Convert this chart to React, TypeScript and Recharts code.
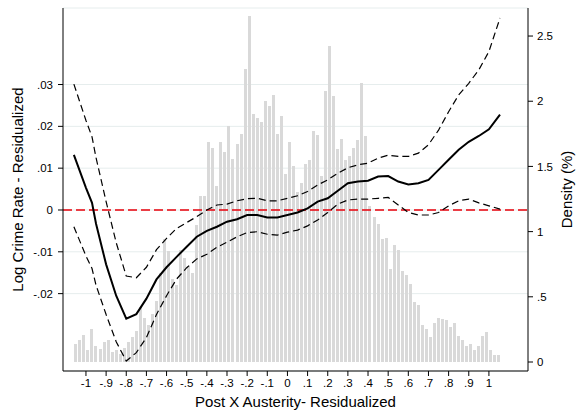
import React from 'react';
import { ComposedChart, Bar, Line, XAxis, YAxis, CartesianGrid, ReferenceLine } from 'recharts';

// Histogram: 106 bins of width 0.02 from -1.06 to 1.06 (density, %)
const densityPct: number[] = [
  0.14, 0.17, 0.21, 0.09, 0.25, 0.12, 0.10, 0.15, 0.17, 0.08,
  0.09, 0.06, 0.11, 0.15, 0.19, 0.24, 0.42, 0.34, 0.28, 0.37,
  0.47, 0.68, 0.94, 0.85, 0.64, 0.59, 0.86, 0.80, 0.74, 0.68,
  1.05, 1.27, 1.27, 1.69, 1.64, 1.35, 1.69, 1.61, 1.81, 1.56,
  1.67, 1.75, 2.25, 2.65, 1.90, 1.87, 1.84, 2.00, 1.96, 2.05,
  1.75, 1.89, 1.44, 1.69, 1.50, 1.30, 1.37, 1.52, 1.55, 1.77,
  1.74, 1.43, 2.08, 2.42, 2.04, 1.63, 1.71, 1.55, 1.58, 1.64,
  1.70, 2.14, 1.73, 1.20, 1.11, 1.06, 0.94, 0.95, 0.71, 0.90,
  0.86, 0.70, 0.67, 0.60, 0.46, 0.44, 0.28, 0.25, 0.19, 0.30,
  0.34, 0.33, 0.32, 0.27, 0.30, 0.20, 0.17, 0.12, 0.14, 0.09,
  0.12, 0.20, 0.23, 0.09, 0.05, 0.05,
];
const binStart = -1.06;
const binWidth = 0.02;
const binCenters: number[] = densityPct.map((_, i) => Math.round((binStart + binWidth * (i + 0.5)) * 1000) / 1000);

// Local polynomial fit and 95% CI
const curveX: number[] = [
  -1.06, -1.0, -0.97, -0.95, -0.9, -0.85, -0.8, -0.75, -0.7, -0.65, -0.6, -0.55, -0.5, -0.45, -0.4,
  -0.35, -0.3, -0.25, -0.2, -0.15, -0.1, -0.05, 0, 0.05, 0.1, 0.15, 0.2, 0.25, 0.3, 0.35, 0.4,
  0.45, 0.5, 0.55, 0.6, 0.65, 0.7, 0.75, 0.8, 0.85, 0.9, 0.95, 1.0, 1.055,
];
const fitY: number[] = [
  0.0132, 0.0053, 0.0017, -0.0033, -0.0130, -0.0205, -0.0260, -0.0249, -0.0212, -0.0166, -0.0137,
  -0.0112, -0.0088, -0.0064, -0.0050, -0.0040, -0.0028, -0.0022, -0.0012, -0.0012, -0.0018,
  -0.0018, -0.0012, -0.0006, 0.0004, 0.0020, 0.0028, 0.0046, 0.0064, 0.0068, 0.0070, 0.0080,
  0.0081, 0.0068, 0.0061, 0.0064, 0.0072, 0.0096, 0.0120, 0.0144, 0.0163, 0.0177, 0.0193, 0.0228,
];
const upperY: number[] = [
  0.0301, 0.0214, 0.0175, 0.0125, 0.0020, -0.0078, -0.0158, -0.0162, -0.0137, -0.0095, -0.0068,
  -0.0044, -0.0030, -0.0016, 0.0000, 0.0012, 0.0014, 0.0022, 0.0027, 0.0028, 0.0022, 0.0022,
  0.0028, 0.0034, 0.0044, 0.0060, 0.0072, 0.0088, 0.0101, 0.0108, 0.0112, 0.0124, 0.0131,
  0.0128, 0.0128, 0.0136, 0.0156, 0.0191, 0.0235, 0.0275, 0.0303, 0.0335, 0.0379, 0.0459,
];
const lowerY: number[] = [
  -0.0040, -0.0110, -0.0140, -0.0180, -0.0250, -0.0315, -0.0361, -0.0341, -0.0305, -0.0250,
  -0.0205, -0.0165, -0.0138, -0.0117, -0.0106, -0.0089, -0.0077, -0.0064, -0.0054, -0.0052,
  -0.0058, -0.0060, -0.0053, -0.0048, -0.0038, -0.0024, -0.0006, 0.0014, 0.0024, 0.0026,
  0.0026, 0.0028, 0.0030, 0.0012, -0.0006, -0.0012, -0.0012, -0.0006, 0.0010, 0.0022, 0.0026,
  0.0017, 0.0010, 0.0002,
];

const xTicks: number[] = [-1, -0.9, -0.8, -0.7, -0.6, -0.5, -0.4, -0.3, -0.2, -0.1, 0, 0.1, 0.2, 0.3, 0.4, 0.5, 0.6, 0.7, 0.8, 0.9, 1];
const leftTicks: number[] = [-0.02, -0.01, 0, 0.01, 0.02, 0.03];
const rightTicks: number[] = [0, 0.5, 1, 1.5, 2, 2.5];

const xTitle = 'Post X Austerity- Residualized';
const leftTitle = 'Log Crime Rate - Residualized';
const rightTitle = 'Density (%)';

const histRows = binCenters.map((c, i) => ({ x: c, density: densityPct[i] }));
const curveRows = curveX.map((c, i) => ({ x: c, fit: fitY[i], upper: upperY[i], lower: lowerY[i] }));

const stataFmt = (v: number) => {
  if (Math.abs(v) < 1e-12) return '0';
  const s = String(Math.abs(Math.round(v * 10000) / 10000)).replace(/^0\./, '.');
  return (v < 0 ? '-' : '') + s;
};

const FONT = '"Liberation Sans", Arial, Helvetica, sans-serif';
const tickStyle = { fill: '#000', fontSize: 11.5, fontFamily: FONT };

// crisp 3px-wide histogram bar centred on the library-computed band
const HistBar = (props: any) => {
  const { x, y, width, height } = props;
  if (height == null || !isFinite(height) || height <= 0) return null;
  const cx = x + width / 2;
  const left = Math.round(cx - 1.5);
  const top = Math.round(y);
  const bottom = Math.round(y + height);
  return <rect x={left} y={top} width={3} height={bottom - top} fill="#d9d9d9" shapeRendering="crispEdges" />;
};

export default function App() {
  return (
    <div style={{ position: 'absolute', left: 0, top: 0, width: 581, height: 412, background: '#fff' }}>
      <ComposedChart
        width={581}
        height={412}
        data={histRows}
        margin={{ top: 8, right: 0, bottom: 0, left: 0 }}
        style={{ fontFamily: FONT }}
      >
        <CartesianGrid yAxisId="left" vertical={false} stroke="#e6eded" strokeWidth={1} />
        <XAxis
          dataKey="x"
          type="number"
          domain={[-1.114, 1.194]}
          allowDataOverflow
          ticks={xTicks}
          tickFormatter={stataFmt}
          interval={0}
          height={41}
          tickSize={5}
          tickMargin={3}
          tick={tickStyle}
          axisLine={{ stroke: '#000' }}
          tickLine={{ stroke: '#000' }}
          label={{ value: xTitle, position: 'center', dy: 10, style: { fontSize: 15, fill: '#000', fontFamily: FONT } }}
        />
        <YAxis
          yAxisId="left"
          type="number"
          domain={[-0.0385, 0.0483]}
          allowDataOverflow
          ticks={leftTicks}
          tickFormatter={stataFmt}
          interval={0}
          width={63}
          tickSize={5}
          tickMargin={5}
          tick={tickStyle}
          axisLine={{ stroke: '#000' }}
          tickLine={{ stroke: '#000' }}
          label={{ value: leftTitle, angle: -90, position: 'center', dx: -13.5, style: { fontSize: 15, fill: '#000', fontFamily: FONT, textAnchor: 'middle' } }}
        />
        <YAxis
          yAxisId="right"
          orientation="right"
          type="number"
          domain={[-0.069, 2.715]}
          allowDataOverflow
          ticks={rightTicks}
          tickFormatter={stataFmt}
          interval={0}
          width={53}
          tickSize={5}
          tickMargin={4}
          tick={tickStyle}
          axisLine={{ stroke: '#000' }}
          tickLine={{ stroke: '#000' }}
          label={{ value: rightTitle, angle: -90, position: 'center', dx: 12, style: { fontSize: 15, fill: '#000', fontFamily: FONT, textAnchor: 'middle' } }}
        />
        <Bar yAxisId="right" dataKey="density" fill="#d9d9d9" barSize={3} shape={HistBar} isAnimationActive={false} />
        <ReferenceLine yAxisId="left" y={0} stroke="#e8000b" strokeWidth={1.6} strokeDasharray="9 4" />
        <Line data={curveRows} yAxisId="left" type="linear" dataKey="upper" stroke="#000" strokeWidth={1.2} strokeDasharray="7 4" dot={false} isAnimationActive={false} />
        <Line data={curveRows} yAxisId="left" type="linear" dataKey="lower" stroke="#000" strokeWidth={1.2} strokeDasharray="7 4" dot={false} isAnimationActive={false} />
        <Line data={curveRows} yAxisId="left" type="linear" dataKey="fit" stroke="#000" strokeWidth={2} dot={false} isAnimationActive={false} />
      </ComposedChart>
    </div>
  );
}
